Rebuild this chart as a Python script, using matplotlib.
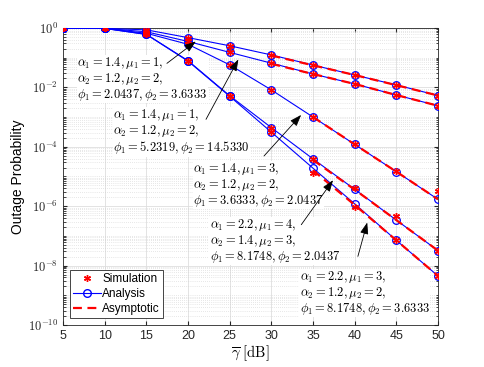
import numpy as np
import matplotlib.pyplot as plt
from matplotlib.ticker import LogLocator, NullFormatter

plt.rcParams['font.family'] = ['Liberation Sans', 'DejaVu Sans']
plt.rcParams['mathtext.fontset'] = 'cm'

# SNR points [dB]
snr = [5, 10, 15, 20, 25, 30, 35, 40, 45, 50]

# analysis curves
ana1 = [0.97, 0.96, 0.86, 0.47, 0.25, 0.123, 0.056, 0.026, 0.012, 0.0053]
ana2 = [0.97, 0.96, 0.74, 0.35, 0.15, 0.065, 0.028, 0.013, 0.0055, 0.0024]
ana3 = [0.97, 0.96, 0.66, 0.28, 0.057, 0.0082, 1.0e-3, 1.2e-4, 1.45e-5, 1.7e-6]
ana4 = [0.97, 0.96, 0.61, 0.079, 0.0052, 4.4e-4, 3.9e-5, 3.7e-6, 3.4e-7, 3.2e-8]
ana5 = [0.97, 0.96, 0.60, 0.076, 0.0050, 3.1e-4, 1.9e-5, 1.2e-6, 7.1e-8, 4.5e-9]

# simulation points
sim1 = [0.97, 0.96, 0.86, 0.47, 0.25, 0.123, 0.056, 0.026, 0.012, 0.0053]
sim2 = [0.97, 0.96, 0.74, 0.35, 0.15, 0.065, 0.028, 0.013, 0.0055, 0.0024]
sim3 = [0.97, 0.96, 0.66, 0.28, 0.057, 0.0082, 1.0e-3, 1.2e-4, 1.5e-5, 3.3e-6]
sim4 = [0.97, 0.96, 0.61, 0.079, 0.0052, 4.4e-4, 3.9e-5, 4.0e-6, 4.8e-7, 3.2e-8]
sim5 = [0.97, 0.96, 0.60, 0.076, 0.0050, 3.1e-4, 1.3e-5, 9.6e-7, 7.1e-8, 4.5e-9]

# asymptotic lines
asy_snr12 = [30, 35, 40, 45, 50]
asy1 = [0.118, 0.055, 0.026, 0.0118, 0.0053]
asy2 = [0.062, 0.028, 0.013, 0.0055, 0.0024]
asy_snr345 = [35, 40, 45, 50]
asy3 = [1.0e-3, 1.2e-4, 1.45e-5, 1.7e-6]
asy4 = [3.6e-5, 3.6e-6, 3.4e-7, 3.2e-8]
asy5 = [1.6e-5, 1.1e-6, 7.1e-8, 4.5e-9]

labels = [
    r'$\alpha_1 = 1.4, \mu_1 = 1,$' + '\n' + r'$\alpha_2 = 1.2, \mu_2 = 2,$' + '\n' + r'$\phi_1 = 2.0437, \phi_2 = 3.6333$',
    r'$\alpha_1 = 1.4, \mu_1 = 1,$' + '\n' + r'$\alpha_2 = 1.2, \mu_2 = 2,$' + '\n' + r'$\phi_1 = 5.2319, \phi_2 = 14.5330$',
    r'$\alpha_1 = 1.4, \mu_1 = 3,$' + '\n' + r'$\alpha_2 = 1.2, \mu_2 = 2,$' + '\n' + r'$\phi_1 = 3.6333, \phi_2 = 2.0437$',
    r'$\alpha_1 = 2.2, \mu_1 = 4,$' + '\n' + r'$\alpha_2 = 1.4, \mu_2 = 3,$' + '\n' + r'$\phi_1 = 8.1748, \phi_2 = 2.0437$',
    r'$\alpha_1 = 2.2, \mu_1 = 3,$' + '\n' + r'$\alpha_2 = 1.2, \mu_2 = 2,$' + '\n' + r'$\phi_1 = 8.1748, \phi_2 = 3.6333$',
]

ast = (6, 2, 0)  # asterisk marker like MATLAB '*'

fig = plt.figure(figsize=(4.85, 3.67), dpi=100)
ax = fig.add_axes([0.13, 0.1144, 0.773, 0.8096])

for a in [ana1, ana2, ana3, ana4, ana5]:
    ax.semilogy(snr, a, '-', color='blue', lw=0.8, marker='o', ms=5.5, mfc='none', mew=0.9, zorder=3)
for s in [sim1, sim2, sim3, sim4, sim5]:
    ax.semilogy(snr, s, ls='none', marker=ast, color='red', ms=5, mew=1.0, zorder=4)
for a in [asy1, asy2]:
    ax.semilogy(asy_snr12, a, '--', color='red', lw=1.6, dashes=(4, 2.5), zorder=3)
for a in [asy3, asy4, asy5]:
    ax.semilogy(asy_snr345, a, '--', color='red', lw=1.6, dashes=(4, 2.5), zorder=3)

# legend proxies
h_sim, = ax.plot([], [], ls='none', marker=ast, color='red', ms=5, mew=1.0, label='Simulation')
h_ana, = ax.plot([], [], '-', color='blue', lw=0.8, marker='o', ms=5.5, mfc='none', label='Analysis')
h_asy, = ax.plot([], [], '--', color='red', lw=1.6, dashes=(4, 2.5), label='Asymptotic')
leg = ax.legend(handles=[h_sim, h_ana, h_asy], loc='lower left', fontsize=8.5,
                fancybox=False, edgecolor='#262626', framealpha=1,
                borderpad=0.25, labelspacing=0.25, handlelength=2.4, handletextpad=0.1,
                borderaxespad=0, bbox_to_anchor=(0.018, 0.025))
leg.get_frame().set_linewidth(0.6)

# annotations: (text pos, arrow tail, arrow head)
txt_pos = [(6.7, 10**-1.72), (11.0, 10**-3.5), (20.6, 10**-5.29), (22.6, 10**-7.17), (33.4, 10**-8.92)]
tails = [(17.2, 10**-1.25), (22.0, 10**-3.16), (28.9, 10**-4.38), (33.4, 10**-6.7), (40.3, 10**-7.78)]
heads = [(21.2, 10**-0.4), (26.2, 10**-0.98), (33.8, 10**-2.86), (37.6, 10**-5.05), (41.6, 10**-6.46)]
for lab, tp, t, h in zip(labels, txt_pos, tails, heads):
    ax.text(tp[0], tp[1], lab, fontsize=9, va='center', ha='left', linespacing=1.0,
            bbox=dict(facecolor='white', edgecolor='none', pad=0.3), zorder=1.8)
    ax.annotate('', xy=h, xytext=t,
                arrowprops=dict(arrowstyle='-|>,head_length=0.7,head_width=0.25',
                                color='black', lw=0.6), zorder=5)

ax.set_xlim(5, 50)
ax.set_ylim(1e-10, 1)
ax.set_xticks(snr)
ax.set_yticks([1e0, 1e-2, 1e-4, 1e-6, 1e-8, 1e-10])
ax.set_yticklabels([r'$\mathsf{10^{0}}$', r'$\mathsf{10^{-2}}$', r'$\mathsf{10^{-4}}$',
                    r'$\mathsf{10^{-6}}$', r'$\mathsf{10^{-8}}$', r'$\mathsf{10^{-10}}$'])
ax.yaxis.set_minor_locator(LogLocator(base=10, subs=np.arange(1, 10), numticks=30))
ax.yaxis.set_minor_formatter(NullFormatter())
ax.tick_params(which='both', direction='in', top=True, right=True, labelsize=9, colors='#262626')
ax.tick_params(which='major', length=3)
ax.tick_params(which='minor', length=1.8)
ax.grid(True, which='major', color='#dedede', lw=0.6)
ax.grid(True, which='minor', axis='y', color='#d0d0d0', lw=0.5, ls=(0, (1, 2)))
for sp in ax.spines.values():
    sp.set_linewidth(0.6)
    sp.set_color('#262626')

ax.set_xlabel(r'$\overline{\gamma}\ \mathrm{[dB]}$', fontsize=10.5, labelpad=1)
ax.set_ylabel('Outage Probability', fontsize=10, labelpad=2)

fig.savefig('out.png', dpi=100)
